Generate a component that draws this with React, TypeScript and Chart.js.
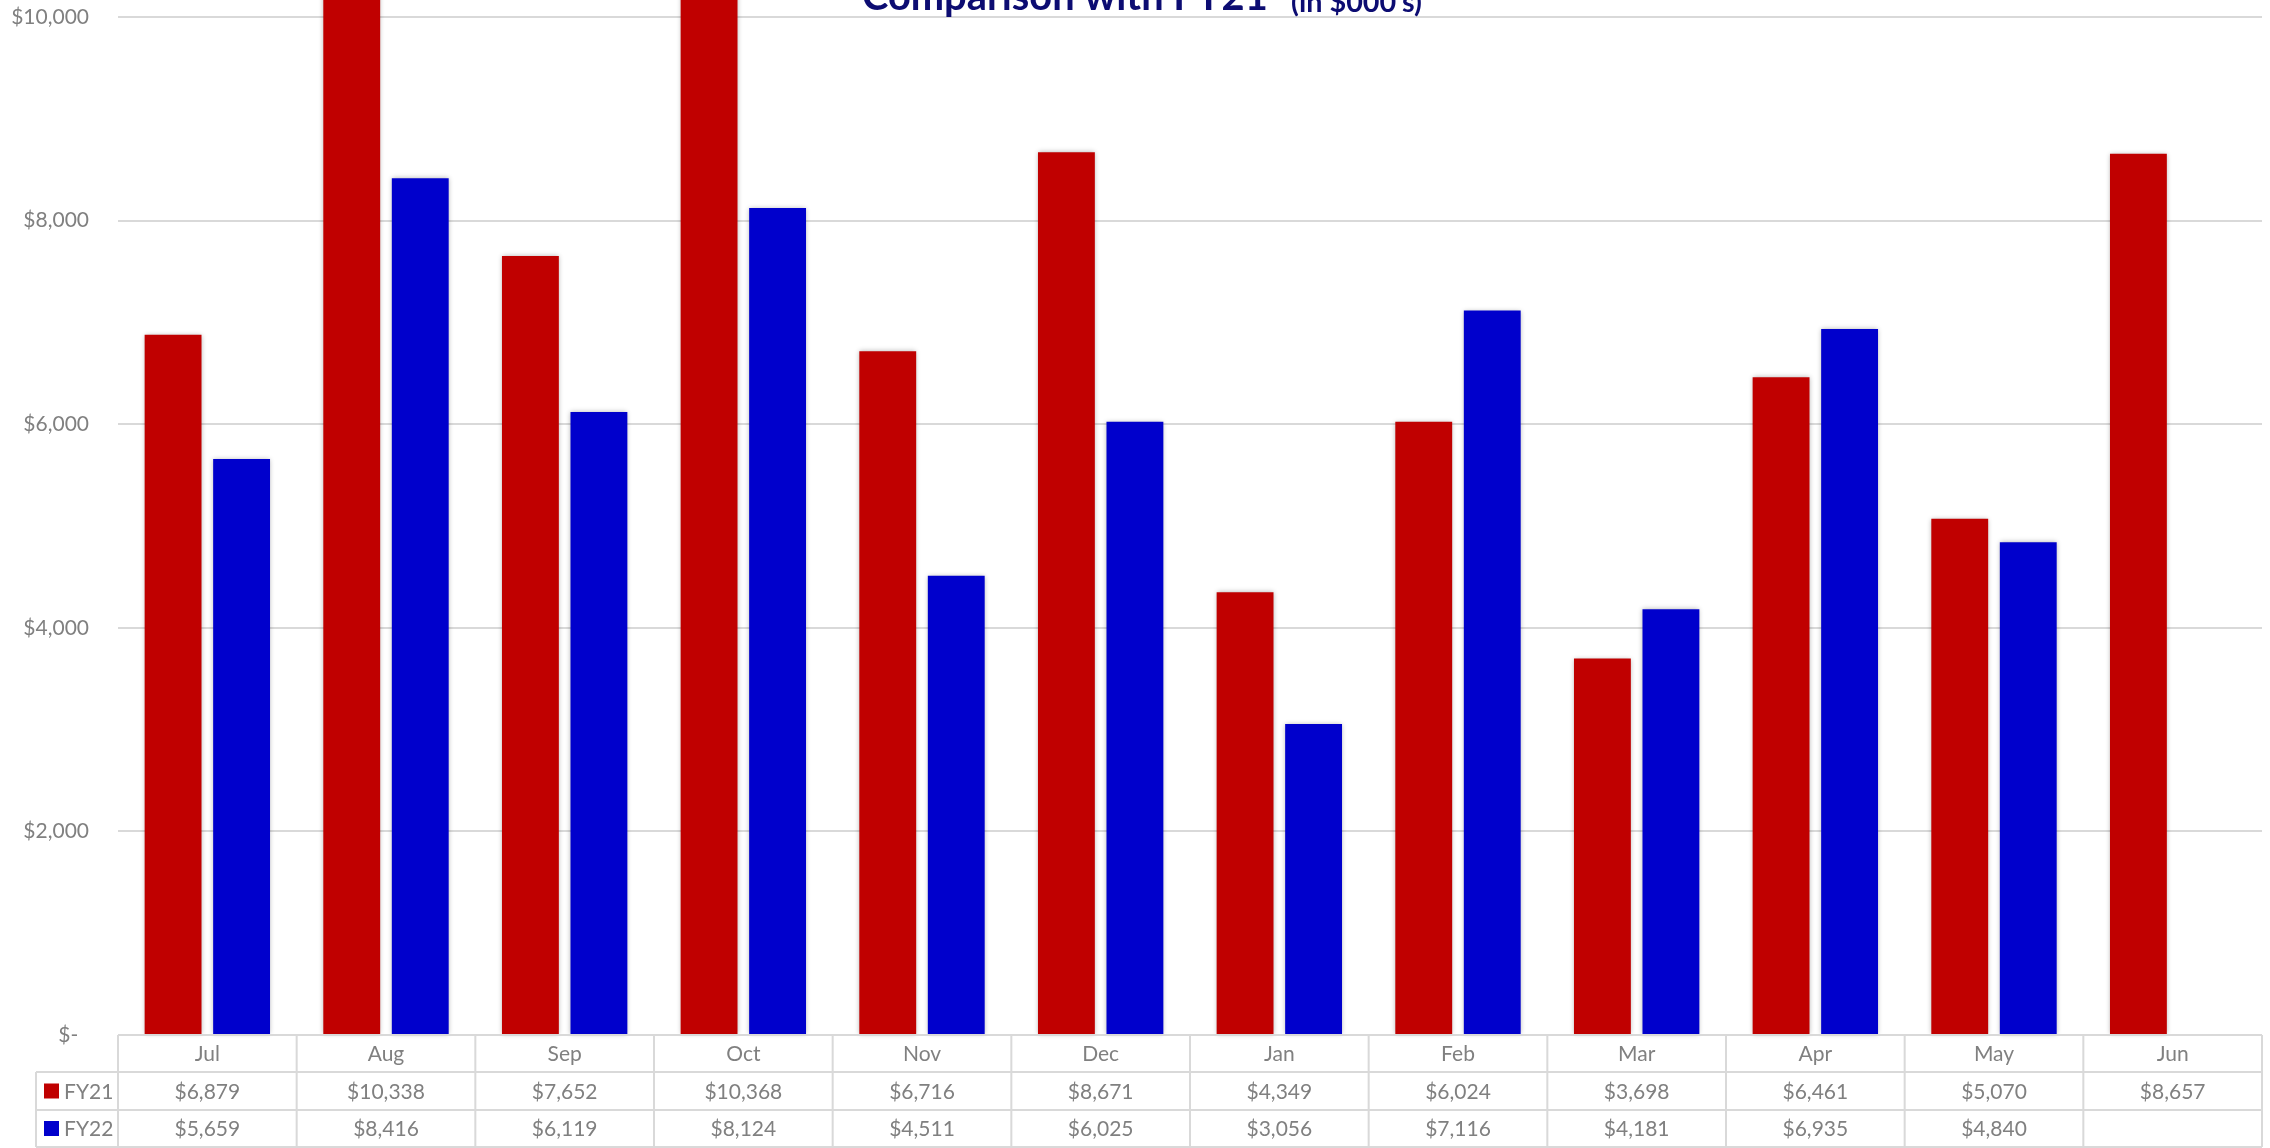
import React, { useEffect, useRef } from "react";
import { Chart, registerables } from "chart.js";
Chart.register(...registerables);

const categories = ["Jul", "Aug", "Sep", "Oct", "Nov", "Dec", "Jan", "Feb", "Mar", "Apr", "May", "Jun"];
const fy21 = [6879, 10338, 7652, 10368, 6716, 8671, 4349, 6024, 3698, 6461, 5070, 8657];
const fy22 = [5659, 8416, 6119, 8124, 4511, 6025, 3056, 7116, 4181, 6935, 4840, null];
const seriesNames = ["FY21", "FY22"];
const seriesColors = ["#C00000", "#0000CC"];
const yMin = 0;
const yMax = 10000;
const yStep = 2000;
const titleMain = "Comparison with FY21";
const titleSub = "(in $000's)";

const FONT = "Lato, 'Open Sans', sans-serif";
const TEXT_GRAY = "#808080";
const LINE_GRAY = "#d9d9d9";

function money(v: number | null): string {
  if (v === null || v === undefined) return "";
  if (v === 0) return "$-  ";
  return "$" + v.toLocaleString("en-US");
}

const shadowPlugin = {
  id: "barShadow",
  beforeDatasetsDraw(chart: any) {
    const ctx = chart.ctx;
    ctx.save();
    ctx.shadowColor = "rgba(0,0,0,0.30)";
    ctx.shadowBlur = 5;
    ctx.shadowOffsetX = 0;
    ctx.shadowOffsetY = 0;
  },
  afterDatasetsDraw(chart: any) {
    chart.ctx.restore();
  },
};

const titlePlugin = {
  id: "cutTitle",
  afterDraw(chart: any) {
    const ctx = chart.ctx;
    ctx.save();
    ctx.fillStyle = "#0c0c72";
    ctx.textBaseline = "alphabetic";
    ctx.textAlign = "left";
    ctx.font = `bold 100px ${FONT}`;
    const w1 = ctx.measureText(titleMain).width;
    const s1 = (100 * 406) / w1;
    ctx.font = `bold ${s1}px ${FONT}`;
    ctx.fillText(titleMain, 862, 10);
    ctx.font = `bold 100px ${FONT}`;
    const w2 = ctx.measureText(titleSub).width;
    const s2 = (100 * 131) / w2;
    ctx.font = `bold ${s2}px ${FONT}`;
    ctx.fillText(titleSub, 1291, 12);
    ctx.restore();
  },
};

const tablePlugin = {
  id: "dataTable",
  afterDraw(chart: any) {
    const { ctx, chartArea, scales } = chart;
    const xs = scales.x;
    const n = categories.length;
    const left = chartArea.left;
    const right = chartArea.right;
    const cw = (right - left) / n;
    const r0 = chartArea.bottom;
    const rows = [r0, r0 + 37, r0 + 75, r0 + 112];
    const legendLeft = 36;
    ctx.save();
    ctx.strokeStyle = LINE_GRAY;
    ctx.lineWidth = 2;
    ctx.beginPath();
    ctx.moveTo(left, rows[0]);
    ctx.lineTo(right, rows[0]);
    for (let r = 1; r < 4; r++) {
      ctx.moveTo(legendLeft, rows[r]);
      ctx.lineTo(right, rows[r]);
    }
    for (let i = 0; i <= n; i++) {
      const xx = left + i * cw;
      ctx.moveTo(xx, rows[0]);
      ctx.lineTo(xx, rows[3]);
    }
    ctx.moveTo(legendLeft, rows[1]);
    ctx.lineTo(legendLeft, rows[3]);
    ctx.stroke();

    ctx.fillStyle = TEXT_GRAY;
    ctx.font = `21px ${FONT}`;
    ctx.textAlign = "center";
    ctx.textBaseline = "middle";
    const series = [fy21, fy22];
    categories.forEach((c, i) => {
      const cx = xs.getPixelForValue(i);
      ctx.fillText(c, cx, (rows[0] + rows[1]) / 2 + 1);
      series.forEach((s, k) => {
        ctx.fillText(money(s[i]), cx, (rows[k + 1] + rows[k + 2]) / 2 + 1);
      });
    });
    seriesNames.forEach((name, k) => {
      const cy = (rows[k + 1] + rows[k + 2]) / 2;
      ctx.fillStyle = seriesColors[k];
      ctx.fillRect(44, cy - 7.5, 15, 15);
      ctx.fillStyle = TEXT_GRAY;
      ctx.textAlign = "left";
      ctx.fillText(name, 64, cy + 1);
    });
    ctx.restore();
  },
};

export default function App() {
  const ref = useRef<HTMLCanvasElement | null>(null);
  useEffect(() => {
    if (!ref.current) return;
    const chart = new Chart(ref.current, {
      type: "bar",
      data: {
        labels: categories,
        datasets: [
          { label: seriesNames[0], data: fy21, backgroundColor: seriesColors[0], clip: false as any },
          { label: seriesNames[1], data: fy22 as any, backgroundColor: seriesColors[1], clip: false as any },
        ],
      },
      options: {
        responsive: false,
        animation: false,
        devicePixelRatio: 1,
        layout: { autoPadding: false, padding: { top: 17, right: 8, bottom: 113, left: 0 } },
        datasets: { bar: { categoryPercentage: 0.767, barPercentage: 0.83 } },
        plugins: { legend: { display: false }, title: { display: false }, tooltip: { enabled: false } },
        scales: {
          x: { display: false },
          y: {
            min: yMin,
            max: yMax,
            ticks: {
              stepSize: yStep,
              padding: 29,
              color: TEXT_GRAY,
              font: { family: FONT, size: 21 },
              callback: (v: any) => money(Number(v)),
            },
            grid: { color: LINE_GRAY, lineWidth: 2, drawTicks: false },
            border: { display: false },
            afterFit: (scale: any) => {
              scale.width = 118;
              scale.paddingTop = 0;
              scale.paddingBottom = 0;
            },
          },
        },
      },
      plugins: [shadowPlugin, titlePlugin, tablePlugin],
    });
    return () => chart.destroy();
  }, []);
  return (
    <div style={{ position: "absolute", left: 0, top: 0, width: 2270, height: 1148, background: "#fff" }}>
      <canvas ref={ref} width={2270} height={1148} style={{ width: 2270, height: 1148, display: "block" }} />
    </div>
  );
}
